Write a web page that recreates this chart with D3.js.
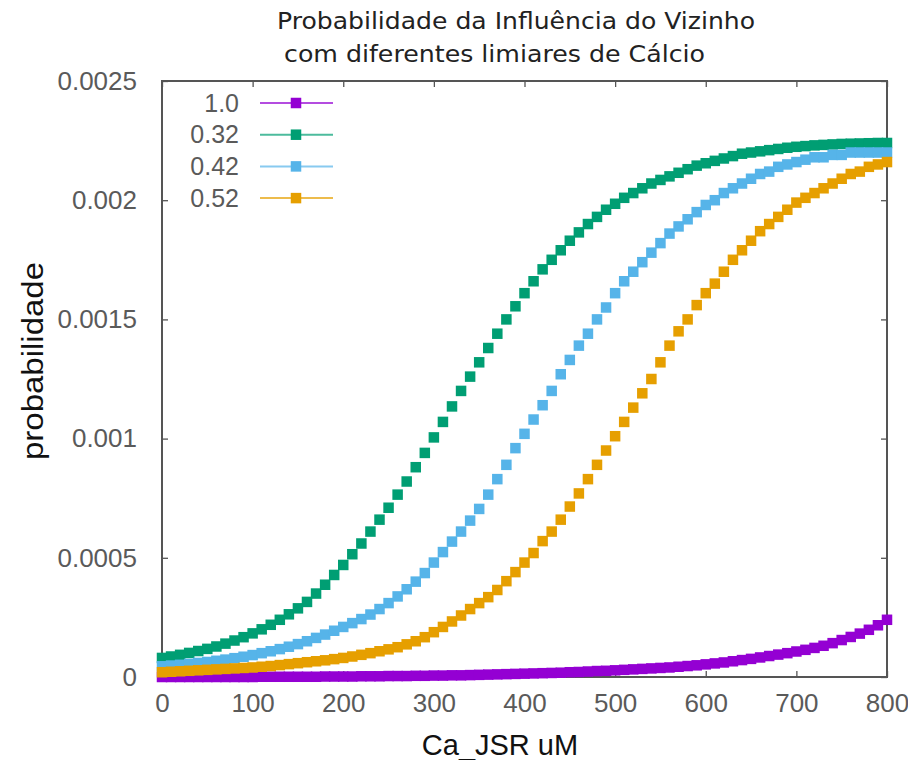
<!DOCTYPE html>
<meta charset="utf-8">
<body style="margin:0;background:#fff">
<svg id="chart" width="908" height="760"></svg>
<script src="https://cdnjs.cloudflare.com/ajax/libs/d3/7.8.5/d3.min.js"></script>
<script>

// Ca_JSR (uM), one sample every 10 uM
var caJSR = [0, 10, 20, 30, 40, 50, 60, 70, 80, 90,
  100, 110, 120, 130, 140, 150, 160, 170, 180, 190,
  200, 210, 220, 230, 240, 250, 260, 270, 280, 290,
  300, 310, 320, 330, 340, 350, 360, 370, 380, 390,
  400, 410, 420, 430, 440, 450, 460, 470, 480, 490,
  500, 510, 520, 530, 540, 550, 560, 570, 580, 590,
  600, 610, 620, 630, 640, 650, 660, 670, 680, 690,
  700, 710, 720, 730, 740, 750, 760, 770, 780, 790, 800]

var limiar10 = [0, 0, 0, 0, 0, 0, 0, 0, 0, 0,
  0, .000001, .000001, .000001, .000001, .000001, .000001, .000001, .000002, .000002,
  .000002, .000002, .000003, .000003, .000003, .000004, .000004, .000004, .000005, .000005,
  .000006, .000006, .000007, .000007, .000008, .000009, .00001, .000011, .000012, .000013,
  .000014, .000015, .000016, .000017, .000018, .00002, .000021, .000023, .000025, .000026,
  .000028, .00003, .000032, .000034, .000036, .000038, .00004, .000043, .000046, .000049,
  .000053, .000057, .000061, .000066, .000071, .000076, .000082, .000088, .000094, .0001,
  .000107, .000114, .000122, .000131, .000142, .000155, .000168, .000182, .000198, .000217, .00024]

var limiar032 = [.00008, .000086, .000093, .000101, .000109, .000118, .000128, .00014, .000153, .000167,
  .000183, .0002, .000219, .00024, .000263, .000288, .000315, .00035, .000387, .000428,
  .00047, .000515, .00056, .00061, .00066, .00071, .000765, .00082, .00088, .00094,
  .001005, .00107, .001135, .0012, .00126, .00132, .00138, .00144, .0015, .001555,
  .00161, .00166, .00171, .00175, .00179, .00183, .001865, .0019, .00193, .00196,
  .001985, .00201, .00203, .00205, .00207, .002085, .0021, .002115, .00213, .002145,
  .002155, .002165, .002175, .002185, .002195, .0022, .002205, .00221, .002215, .00222,
  .002224, .002227, .00223, .002232, .002234, .002236, .002237, .002238, .002239, .00224, .00224]

var limiar042 = [.000045, .000048, .000051, .000055, .000059, .000063, .000068, .000073, .000079, .000085,
  .000092, .0001, .000108, .000117, .000127, .000138, .00015, .000164, .000178, .000194,
  .00021, .000226, .000243, .000262, .000285, .00031, .000338, .000368, .0004, .000436,
  .00048, .000524, .000568, .00061, .000656, .000705, .000765, .00083, .00089, .00096,
  .00102, .00108, .00114, .0012, .00127, .00133, .00139, .00144, .0015, .00155,
  .00161, .00166, .0017, .00174, .00178, .00182, .00186, .00189, .00192, .00195,
  .00198, .002, .00203, .00205, .00207, .00209, .00211, .00212, .00214, .00215,
  .00216, .00217, .00218, .00218, .00219, .00219, .0022, .0022, .0022, .0022, .0022]

var limiar052 = [.00002, .000022, .000024, .000026, .000028, .00003, .000032, .000034, .000036, .000038,
  .00004, .000043, .000046, .00005, .000054, .000058, .000062, .000066, .00007, .000075,
  .00008, .000086, .000093, .0001, .000108, .000116, .000125, .000137, .00015, .000167,
  .000188, .00021, .000233, .000258, .000285, .00031, .000335, .000365, .000402, .00044,
  .00048, .00052, .00057, .00061, .00066, .000715, .00077, .00083, .00089, .00095,
  .00101, .00107, .00113, .00119, .00125, .00132, .00139, .00145, .0015, .00156,
  .00161, .00165, .0017, .00175, .00179, .00183, .00187, .0019, .00193, .00196,
  .00199, .00201, .00203, .00205, .00207, .00209, .00211, .00212, .00214, .00215, .00216]

var seriesNames = ['1.0', '0.32', '0.42', '0.52']
var seriesValues = [limiar10, limiar032, limiar042, limiar052]
var seriesColors = ['#9400d3', '#009e73', '#56b4e9', '#e69f00']

var xTicks = [0, 100, 200, 300, 400, 500, 600, 700, 800]
var yTicks = [0, 0.0005, 0.001, 0.0015, 0.002, 0.0025]
var yTickLabels = ['0', '0.0005', '0.001', '0.0015', '0.002', '0.0025']


var svg = d3.select('#chart')
// plot box (note: "top" is taken by window.top)
var plotL = 162, plotR = 887, plotT = 81, plotB = 677
var fontAxis = 'Liberation Sans, Arial, sans-serif'

var x = d3.scaleLinear().domain([0, 800]).range([plotL, plotR])
var y = d3.scaleLinear().domain([0, 0.0025]).range([plotB, plotT])

// title, two lines like gnuplot
var title = svg.append('g')
  .style('font-family', 'DejaVu Sans, sans-serif')
  .style('font-size', '23px')
  .attr('fill', '#222')
title.append('text').attr('x', 277).attr('y', 29)
  .attr('textLength', 478).attr('lengthAdjust', 'spacingAndGlyphs')
  .text('Probabilidade da Influência do Vizinho')
title.append('text').attr('x', 284).attr('y', 62)
  .attr('textLength', 421).attr('lengthAdjust', 'spacingAndGlyphs')
  .text('com diferentes limiares de Cálcio')

// mirrored inward ticks on all four sides
var tickLen = 6
var axisColor = '#555'
var axes = svg.append('g')
function tickAxis(axis, tx, ty) {
  var g = axes.append('g').attr('transform', 'translate(' + tx + ',' + ty + ')').call(axis)
  g.select('.domain').remove()
  g.selectAll('.tick line').attr('stroke', axisColor).attr('stroke-width', 1.3)
  g.selectAll('.tick text')
    .attr('fill', '#5a5a5a')
    .style('font-family', fontAxis)
    .style('font-size', '26px')
  return g
}

tickAxis(d3.axisBottom(x).tickValues(xTicks).tickSizeInner(-tickLen).tickPadding(17).tickFormat(d3.format('d')), 0, plotB)
tickAxis(d3.axisTop(x).tickValues(xTicks).tickSizeInner(-tickLen).tickFormat(''), 0, plotT)
tickAxis(d3.axisLeft(y).tickValues(yTicks).tickSizeInner(-tickLen).tickPadding(25)
  .tickFormat(function (d, i) { return yTickLabels[i] }), plotL, 0)
tickAxis(d3.axisRight(y).tickValues(yTicks).tickSizeInner(-tickLen).tickFormat(''), plotR, 0)

svg.append('rect')
  .attr('x', plotL).attr('y', plotT)
  .attr('width', plotR - plotL).attr('height', plotB - plotT)
  .attr('fill', 'none')
  .attr('stroke', axisColor)
  .attr('stroke-width', 2)

// axis labels
svg.append('text')
  .attr('x', 500).attr('y', 755)
  .attr('text-anchor', 'middle')
  .style('font-family', fontAxis)
  .style('font-size', '29px')
  .attr('fill', '#111')
  .text('Ca_JSR uM')

svg.append('text')
  .attr('transform', 'translate(43,361) rotate(-90)')
  .attr('text-anchor', 'middle')
  .attr('textLength', 198).attr('lengthAdjust', 'spacingAndGlyphs')
  .style('font-family', fontAxis)
  .style('font-size', '30px')
  .attr('fill', '#111')
  .text('probabilidade')

// series: filled squares only in the plot (gnuplot pt 5)
var markSize = 10.5

var plot = svg.append('g')
seriesValues.forEach(function (vals, s) {
  plot.append('g')
    .selectAll('rect')
    .data(vals)
    .join('rect')
    .attr('x', function (d, i) { return x(caJSR[i]) - markSize / 2 })
    .attr('y', function (d) { return y(d) - markSize / 2 })
    .attr('width', markSize)
    .attr('height', markSize)
    .attr('fill', seriesColors[s])
})

// legend
var legend = svg.append('g')
seriesNames.forEach(function (name, s) {
  var ly = 103 + s * 31.7
  legend.append('text')
    .attr('x', 239).attr('y', ly)
    .attr('dy', '0.35em')
    .attr('text-anchor', 'end')
    .style('font-family', fontAxis)
    .style('font-size', '25px')
    .attr('fill', '#5a5a5a')
    .text(name)
  legend.append('line')
    .attr('x1', 260).attr('x2', 333)
    .attr('y1', ly).attr('y2', ly)
    .attr('stroke', seriesColors[s])
    .attr('stroke-width', 2)
    .attr('stroke-opacity', 0.7)
  legend.append('rect')
    .attr('x', 296 - markSize / 2).attr('y', ly - markSize / 2)
    .attr('width', markSize).attr('height', markSize)
    .attr('fill', seriesColors[s])
})

</script>
</body>
